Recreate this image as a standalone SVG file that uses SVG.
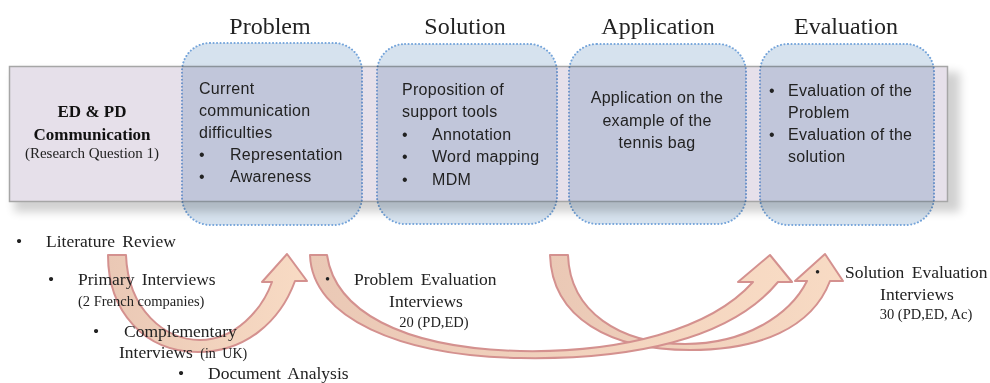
<svg xmlns="http://www.w3.org/2000/svg" width="990" height="383" viewBox="0 0 990 383">
<defs>
<filter id="sh" x="-5%" y="-20%" width="110%" height="140%"><feGaussianBlur stdDeviation="5"/></filter>
<linearGradient id="ag" x1="0" y1="0" x2="1" y2="0">
<stop offset="0" stop-color="#eac8b5"/>
<stop offset="1" stop-color="#f8dbc4"/>
</linearGradient>
<style>
.box{fill:#d6e2ee;mix-blend-mode:multiply;stroke:#74a4da;stroke-width:2;stroke-dasharray:0.1 3.4;stroke-linecap:round}
.hd{font-family:"Liberation Serif",serif;font-size:24px;fill:#222;text-anchor:middle}
.bt{font-family:"Liberation Sans",sans-serif;font-size:16px;letter-spacing:0.3px;fill:#222}
.tm{font-family:"Liberation Serif",serif;font-size:17.5px;fill:#222;word-spacing:3px}
.sm{font-family:"Liberation Serif",serif;font-size:14.5px;fill:#222}
.arr{fill:url(#ag);stroke:#d4918f;stroke-width:2;stroke-linejoin:round}
</style>
</defs>
<rect x="14" y="72" width="946" height="140" fill="#000" opacity="0.18" filter="url(#sh)"/>
<rect id="band" x="9.5" y="66.5" width="938" height="135" fill="#e6e0ea" stroke="#a6a6a6" stroke-width="1.5"/>
<g id="rq">
<text x="92" y="117" text-anchor="middle" font-family="Liberation Serif,serif" font-weight="bold" font-size="17px" fill="#111">ED &amp; PD</text>
<text x="92" y="140" text-anchor="middle" font-family="Liberation Serif,serif" font-weight="bold" font-size="17px" fill="#111">Communication</text>
<text x="92" y="158" text-anchor="middle" font-family="Liberation Serif,serif" font-size="15px" fill="#222">(Research Question 1)</text>
</g>
<g id="problem">
<rect class="box" x="182" y="43" width="180" height="182" rx="28"/>
<text class="hd" x="270" y="34">Problem</text>
<text class="bt" x="199" y="94">Current</text>
<text class="bt" x="199" y="116">communication</text>
<text class="bt" x="199" y="138">difficulties</text>
<text class="bt" x="199" y="160">•</text><text class="bt" x="230" y="160">Representation</text>
<text class="bt" x="199" y="182">•</text><text class="bt" x="230" y="182">Awareness</text>
</g>
<g id="solution">
<rect class="box" x="377" y="44" width="180" height="180" rx="28"/>
<text class="hd" x="465" y="34">Solution</text>
<text class="bt" x="402" y="95">Proposition of</text>
<text class="bt" x="402" y="117">support tools</text>
<text class="bt" x="402" y="140">•</text><text class="bt" x="432" y="140">Annotation</text>
<text class="bt" x="402" y="162">•</text><text class="bt" x="432" y="162">Word mapping</text>
<text class="bt" x="402" y="185">•</text><text class="bt" x="432" y="185">MDM</text>
</g>
<g id="application">
<rect class="box" x="569" y="44" width="177" height="180" rx="28"/>
<text class="hd" x="658" y="34">Application</text>
<text class="bt" x="657" y="103" text-anchor="middle">Application on the</text>
<text class="bt" x="657" y="126" text-anchor="middle">example of the</text>
<text class="bt" x="657" y="148" text-anchor="middle">tennis bag</text>
</g>
<g id="evaluation">
<rect class="box" x="760" y="44" width="174" height="181" rx="28"/>
<text class="hd" x="846" y="34">Evaluation</text>
<text class="bt" x="769" y="96">•</text><text class="bt" x="788" y="96">Evaluation of the</text>
<text class="bt" x="788" y="118">Problem</text>
<text class="bt" x="769" y="140">•</text><text class="bt" x="788" y="140">Evaluation of the</text>
<text class="bt" x="788" y="162">solution</text>
</g>
<g id="connectors">
<path class="arr" d="M 550,255 L 568,255 C 570,312 620,344 685,344 C 745,344 790,315 807,281 L 795,281 L 825,254 L 843,281 L 830,281 C 812,328 760,350 690,350 C 610,350 552,318 550,255 Z"/>
<path class="arr" d="M 310,255 L 327,255 C 335,310 400,348 520,351 C 620,353 710,330 753,282 L 738,282 L 770,255 L 792,282 L 778,282 C 730,340 630,360 520,358 C 400,356 312,318 310,255 Z"/>
<path class="arr" d="M 108,255 L 126,255 C 128,310 165,340 200,340 C 235,340 262,310 272,282 L 262,282 L 287,254 L 307,281 L 295,281 C 280,322 245,352 198,352 C 145,352 108,312 108,255 Z"/>
</g>
<g id="sources">
<text class="tm" x="16" y="247">•</text><text class="tm" x="46" y="247">Literature Review</text>
<text class="tm" x="48" y="285">•</text><text class="tm" x="78" y="285">Primary Interviews</text>
<text class="sm" x="78" y="306" font-size="15.5px">(2 French companies)</text>
<text class="tm" x="93" y="337">•</text><text class="tm" x="124" y="337">Complementary</text>
<text class="tm" x="119" y="358">Interviews <tspan font-size="14px">(in UK)</tspan></text>
<text class="tm" x="178" y="379">•</text><text class="tm" x="208" y="379">Document Analysis</text>
</g>
<g id="problem-eval">
<text class="sm" x="325" y="284">•</text>
<text class="tm" x="354" y="285">Problem Evaluation</text>
<text class="tm" x="426" y="307" text-anchor="middle">Interviews</text>
<text class="sm" x="434" y="327" text-anchor="middle">20 (PD,ED)</text>
</g>
<g id="solution-eval">
<text class="sm" x="815" y="277">•</text>
<text class="tm" x="845" y="278">Solution Evaluation</text>
<text class="tm" x="917" y="300" text-anchor="middle">Interviews</text>
<text class="sm" x="926" y="319" text-anchor="middle">30 (PD,ED, Ac)</text>
</g>
</svg>
